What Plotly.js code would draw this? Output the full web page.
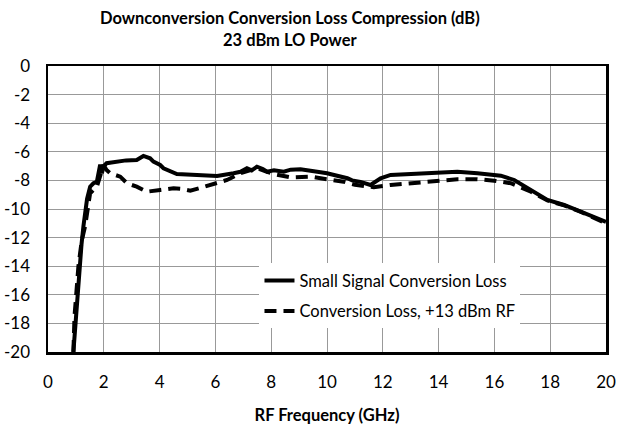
<!DOCTYPE html>
<html>
<head>
<meta charset="utf-8">
<script src="https://cdn.plot.ly/plotly-3.0.1.min.js"></script>
<style>html,body{margin:0;padding:0;background:#fff;}#chart{width:618px;height:430px;}</style>
</head>
<body>
<div id="chart"></div>
<script>
const smallFreq = [0.91,1.05,1.2,1.27,1.4,1.51,1.63,1.75,1.87,1.93,2.0,2.1,2.4,2.8,3.18,3.42,3.66,3.78,4.02,4.14,4.62,5.22,5.6,6.06,6.65,6.9,7.13,7.3,7.49,7.7,7.85,8.1,8.45,8.7,9.05,9.4,9.65,10.0,10.24,10.5,10.73,10.9,11.2,11.56,11.92,12.28,13.12,14.08,14.67,15.39,16.23,16.71,17.31,17.9,18.5,19.1,19.7,20.0];
const smallLoss = [-20,-16,-12.5,-11.2,-9.3,-8.44,-8.2,-8.1,-6.9,-7.5,-7.0,-6.8,-6.7,-6.6,-6.57,-6.29,-6.45,-6.69,-6.92,-7.15,-7.55,-7.62,-7.7,-7.69,-7.5,-7.4,-7.15,-7.3,-7.04,-7.2,-7.39,-7.3,-7.39,-7.25,-7.22,-7.35,-7.39,-7.5,-7.62,-7.7,-7.85,-8.0,-8.1,-8.32,-7.85,-7.62,-7.55,-7.46,-7.39,-7.5,-7.67,-7.97,-8.67,-9.37,-9.72,-10.19,-10.65,-10.9];
const rfFreq = [0.91,0.95,1.09,1.21,1.33,1.51,1.75,1.85,1.99,2.1,2.23,2.59,2.83,3.18,3.54,4.02,4.5,4.8,5.1,5.5,5.82,6.42,6.89,7.2,7.49,7.85,8.2,8.69,9.41,10.0,10.6,11.0,11.68,12.28,13.12,14.08,14.67,15.39,15.99,16.59,17.31,17.9,18.5,19.1,19.7,20.0];
const rfLoss = [-20,-17.5,-14.0,-12.2,-11.2,-8.9,-8.44,-7.8,-6.92,-7.27,-7.5,-7.74,-8.2,-8.44,-8.79,-8.67,-8.55,-8.6,-8.72,-8.5,-8.32,-7.97,-7.5,-7.3,-7.15,-7.4,-7.6,-7.79,-7.74,-7.92,-8.09,-8.3,-8.48,-8.32,-8.16,-7.97,-7.92,-7.92,-8.02,-8.2,-8.79,-9.4,-9.75,-10.2,-10.7,-11.0];
const seriesNames = ["Small Signal Conversion Loss", "Conversion Loss, +13 dBm RF"];
const xTicks = [0,2,4,6,8,10,12,14,16,18,20];
const yTicks = [0,-2,-4,-6,-8,-10,-12,-14,-16,-18,-20];

const font = "Lato, 'Open Sans', sans-serif";
const traces = [
  {x: smallFreq, y: smallLoss, name: seriesNames[0], mode: "lines", legendgroup: "a",
   line: {color: "#000", width: 4}},
  {x: rfFreq, y: rfLoss, name: seriesNames[1], mode: "lines", legendgroup: "b",
   line: {color: "#000", width: 4, dash: "12px,7px"}}
];
const layout = {
  width: 618, height: 430,
  margin: {l: 48, r: 12, t: 66, b: 78},
  paper_bgcolor: "#fff", plot_bgcolor: "#fff",
  font: {family: font, size: 16, color: "#000"},
  title: {text: "<b>Downconversion Conversion Loss Compression (dB)</b><br><b>23 dBm LO Power</b>",
          x: 0.469, xanchor: "center", xref: "container", yref: "container", y: 0.944, yanchor: "bottom",
          font: {family: font, size: 16.5, color: "#000"}},
  showlegend: true,
  legend: {x: 0.379, xanchor: "left", y: 0.31, yanchor: "top", bgcolor: "#fff",
           borderwidth: 0, font: {family: font, size: 16.5, color: "#000"},
           traceorder: "grouped", tracegroupgap: 6},
  xaxis: {range: [0, 20], tickvals: xTicks, ticktext: xTicks.map(String),
          showgrid: true, gridcolor: "#999", gridwidth: 1,
          showline: true, mirror: true, linecolor: "#000", linewidth: 2.5,
          zeroline: false, ticks: "", ticklabelstandoff: 13,
          tickfont: {family: font, size: 17},
          title: {text: "<b>RF Frequency (GHz)</b>", standoff: 19, font: {family: font, size: 16.5}}},
  yaxis: {range: [-20, 0], tickvals: yTicks, ticktext: yTicks.map(String),
          showgrid: true, gridcolor: "#999", gridwidth: 1,
          showline: true, mirror: true, linecolor: "#000", linewidth: 2.5,
          zeroline: false, ticks: "", ticklabelstandoff: 12,
          tickfont: {family: font, size: 17}}
};
Plotly.newPlot("chart", traces, layout, {displayModeBar: false, staticPlot: true});
</script>
</body>
</html>
